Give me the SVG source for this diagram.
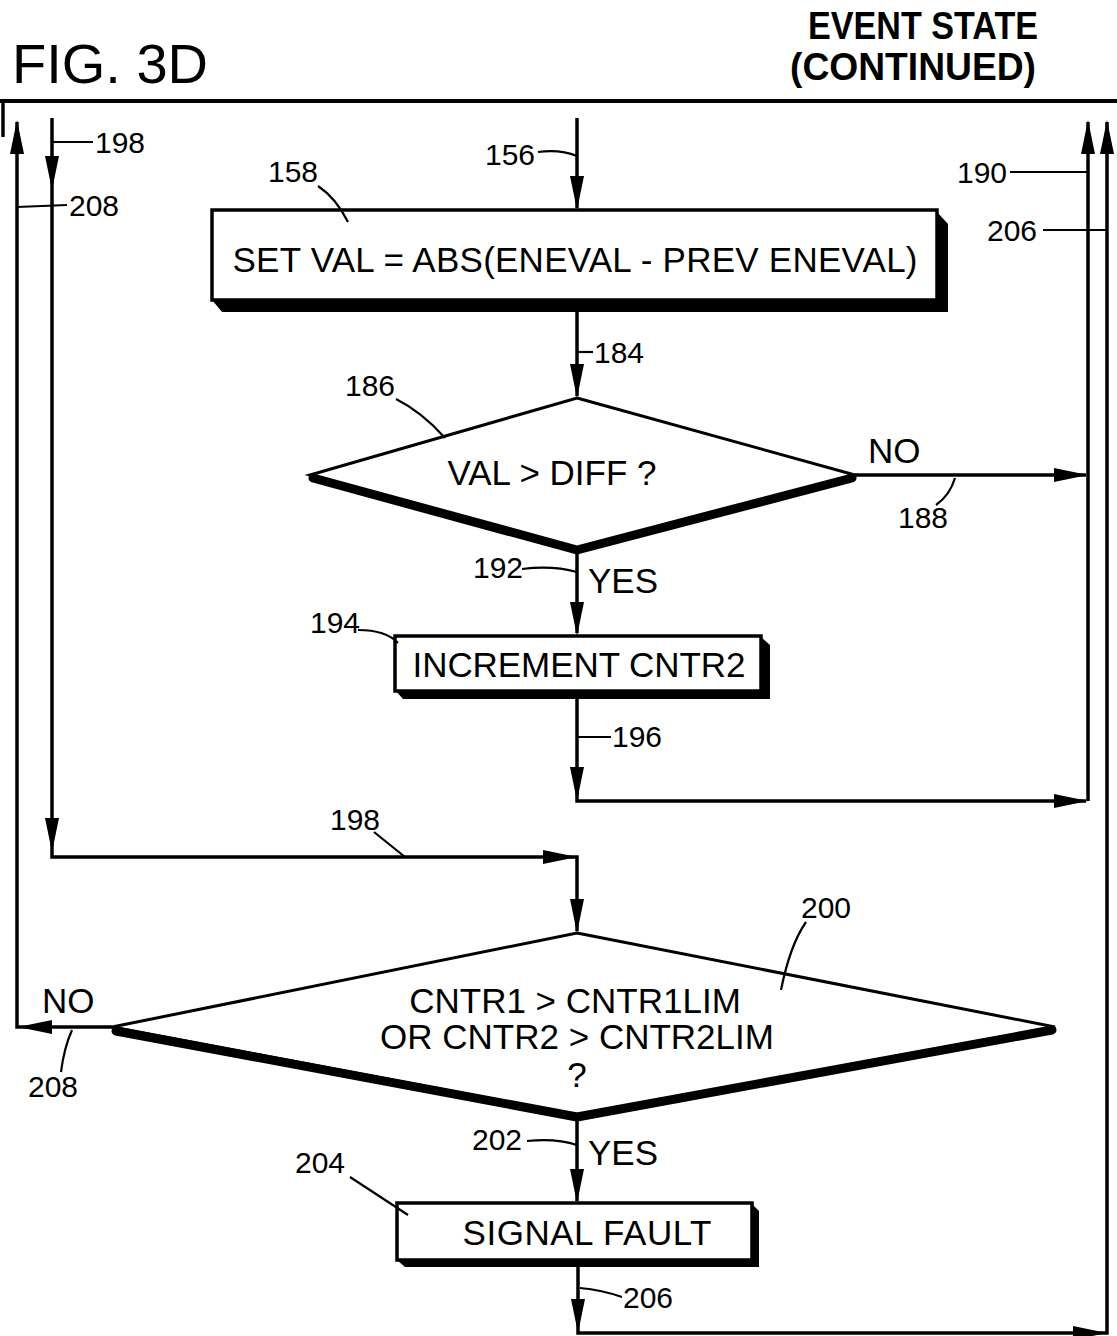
<svg xmlns="http://www.w3.org/2000/svg" width="1117" height="1336" viewBox="0 0 1117 1336">
<style>
text{font-family:"Liberation Sans",Arial,sans-serif;fill:#000}
.t{font-size:35px}
.n{font-size:30px}
.c{fill:none;stroke:#000;stroke-width:3.5;stroke-linejoin:miter}
.l{fill:none;stroke:#000;stroke-width:2.2}
.box{fill:#fff;stroke:#000;stroke-width:3.5}
.sh{fill:#000}
.dia{fill:#fff;stroke:#000;stroke-width:3}
.heavy{fill:none;stroke:#000;stroke-width:9;stroke-linejoin:round;stroke-linecap:round}
</style>
<defs>
<path id="ah" d="M0,0 L-34,-7 L-34,7 Z" fill="#000"/>
</defs>
<rect width="1117" height="1336" fill="#fff"/>
<g id="header">
<text x="12" y="83" style="font-size:56px">FIG. 3D</text>
<text x="1038" y="39" text-anchor="end" textLength="230" lengthAdjust="spacingAndGlyphs" style="font-size:38px;font-weight:bold">EVENT STATE</text>
<text x="1036" y="80" text-anchor="end" textLength="246" lengthAdjust="spacingAndGlyphs" style="font-size:38px;font-weight:bold">(CONTINUED)</text>
<line x1="0" y1="101" x2="1117" y2="101" stroke="#000" stroke-width="4"/>
<line x1="3" y1="101" x2="3" y2="137" stroke="#000" stroke-width="3.5"/>
</g>
<g id="connectors">
<path class="c" d="M112,1027 L17,1027 L17,122"/>
<use href="#ah" transform="translate(18,1027) rotate(180)"/>
<use href="#ah" transform="translate(17,120) rotate(-90)"/>
<path class="c" d="M52,118 L52,857 L577,857 L577,931"/>
<use href="#ah" transform="translate(52,190) rotate(90)"/>
<use href="#ah" transform="translate(52,852) rotate(90)"/>
<use href="#ah" transform="translate(577,857)"/>
<use href="#ah" transform="translate(577,933) rotate(90)"/>
<path class="c" d="M577,118 L577,208"/>
<use href="#ah" transform="translate(577,210) rotate(90)"/>
<path class="c" d="M577,312 L577,396"/>
<use href="#ah" transform="translate(577,398) rotate(90)"/>
<path class="c" d="M855,475 L1086,475"/>
<use href="#ah" transform="translate(1088,475)"/>
<path class="c" d="M577,550 L577,633"/>
<use href="#ah" transform="translate(577,636) rotate(90)"/>
<path class="c" d="M577,697 L577,801 L1086,801"/>
<use href="#ah" transform="translate(577,801) rotate(90)"/>
<use href="#ah" transform="translate(1088,801)"/>
<path class="c" d="M1088,801 L1088,122"/>
<use href="#ah" transform="translate(1088,120) rotate(-90)"/>
<path class="c" d="M577,1117 L577,1201"/>
<use href="#ah" transform="translate(577,1203) rotate(90)"/>
<path class="c" d="M578,1266 L578,1333 L1107,1333 L1107,122"/>
<use href="#ah" transform="translate(578,1333) rotate(90)"/>
<use href="#ah" transform="translate(1107,1333)"/>
<use href="#ah" transform="translate(1107,120) rotate(-90)"/>
</g>
<g id="n158">
<path class="sh" d="M937,212 L948,224 L948,312 L222,312 L212,300 L937,300 Z"/>
<rect class="box" x="212" y="210" width="725" height="90"/>
<text class="t" x="575" y="272" text-anchor="middle" textLength="685" lengthAdjust="spacing">SET VAL = ABS(ENEVAL - PREV ENEVAL)</text>
</g>
<g id="n186">
<polygon class="dia" points="577,398 855,475 577,548 310,475"/>
<polyline class="heavy" points="313,478 577,550 852,478"/>
<text class="t" x="552" y="485" text-anchor="middle">VAL &gt; DIFF ?</text>
</g>
<g id="n194">
<path class="sh" d="M761,637 L770,645 L770,699 L403,699 L395,690 L761,690 Z"/>
<rect class="box" x="395" y="636" width="366" height="55"/>
<text class="t" x="579" y="677" text-anchor="middle" textLength="333" lengthAdjust="spacing">INCREMENT CNTR2</text>
</g>
<g id="n200">
<polygon class="dia" points="577,933 1055,1027 577,1115 112,1027"/>
<polyline class="heavy" points="116,1031 577,1117 1052,1030"/>
<text class="t" x="575" y="1013" text-anchor="middle">CNTR1 &gt; CNTR1LIM</text>
<text class="t" x="577" y="1049" text-anchor="middle">OR CNTR2 &gt; CNTR2LIM</text>
<text class="t" x="577" y="1087" text-anchor="middle">?</text>
</g>
<g id="n204">
<path class="sh" d="M752,1204 L759,1211 L759,1267 L405,1267 L397,1260 L752,1260 Z"/>
<rect class="box" x="397" y="1203" width="355" height="57"/>
<text class="t" x="587" y="1245" text-anchor="middle" textLength="249" lengthAdjust="spacing">SIGNAL FAULT</text>
</g>
<g id="refs">
<path class="l" d="M52,142 L93,142"/>
<text class="n" x="95" y="153">198</text>
<path class="l" d="M17,207 L67,205"/>
<text class="n" x="69" y="216">208</text>
<path class="l" d="M538,152 Q560,149 577,156"/>
<text class="n" x="485" y="165">156</text>
<path class="l" d="M318,186 Q336,198 348,222"/>
<text class="n" x="268" y="182">158</text>
<path class="l" d="M577,352 L593,352"/>
<text class="n" x="594" y="363">184</text>
<path class="l" d="M396,399 Q422,412 445,438"/>
<text class="n" x="345" y="396">186</text>
<text class="t" x="868" y="463">NO</text>
<path class="l" d="M955,478 Q950,495 936,505"/>
<text class="n" x="898" y="528">188</text>
<path class="l" d="M1010,172 L1088,172"/>
<text class="n" x="957" y="183">190</text>
<path class="l" d="M1043,230 L1107,230"/>
<text class="n" x="987" y="241">206</text>
<path class="l" d="M522,569 Q552,565 577,572"/>
<text class="n" x="473" y="578">192</text>
<text class="t" x="588" y="593">YES</text>
<path class="l" d="M358,630 Q386,630 398,643"/>
<text class="n" x="310" y="633">194</text>
<path class="l" d="M577,737 L611,737"/>
<text class="n" x="612" y="747">196</text>
<path class="l" d="M374,832 L405,857"/>
<text class="n" x="330" y="830">198</text>
<path class="l" d="M806,922 Q790,945 781,990"/>
<text class="n" x="801" y="918">200</text>
<text class="t" x="42" y="1013">NO</text>
<path class="l" d="M72,1030 Q64,1048 61,1072"/>
<text class="n" x="28" y="1097">208</text>
<path class="l" d="M527,1141 Q556,1138 577,1145"/>
<text class="n" x="472" y="1150">202</text>
<text class="t" x="588" y="1165">YES</text>
<path class="l" d="M350,1177 L408,1215"/>
<text class="n" x="295" y="1173">204</text>
<path class="l" d="M580,1288 Q602,1290 622,1297"/>
<text class="n" x="623" y="1308">206</text>
</g>
</svg>
